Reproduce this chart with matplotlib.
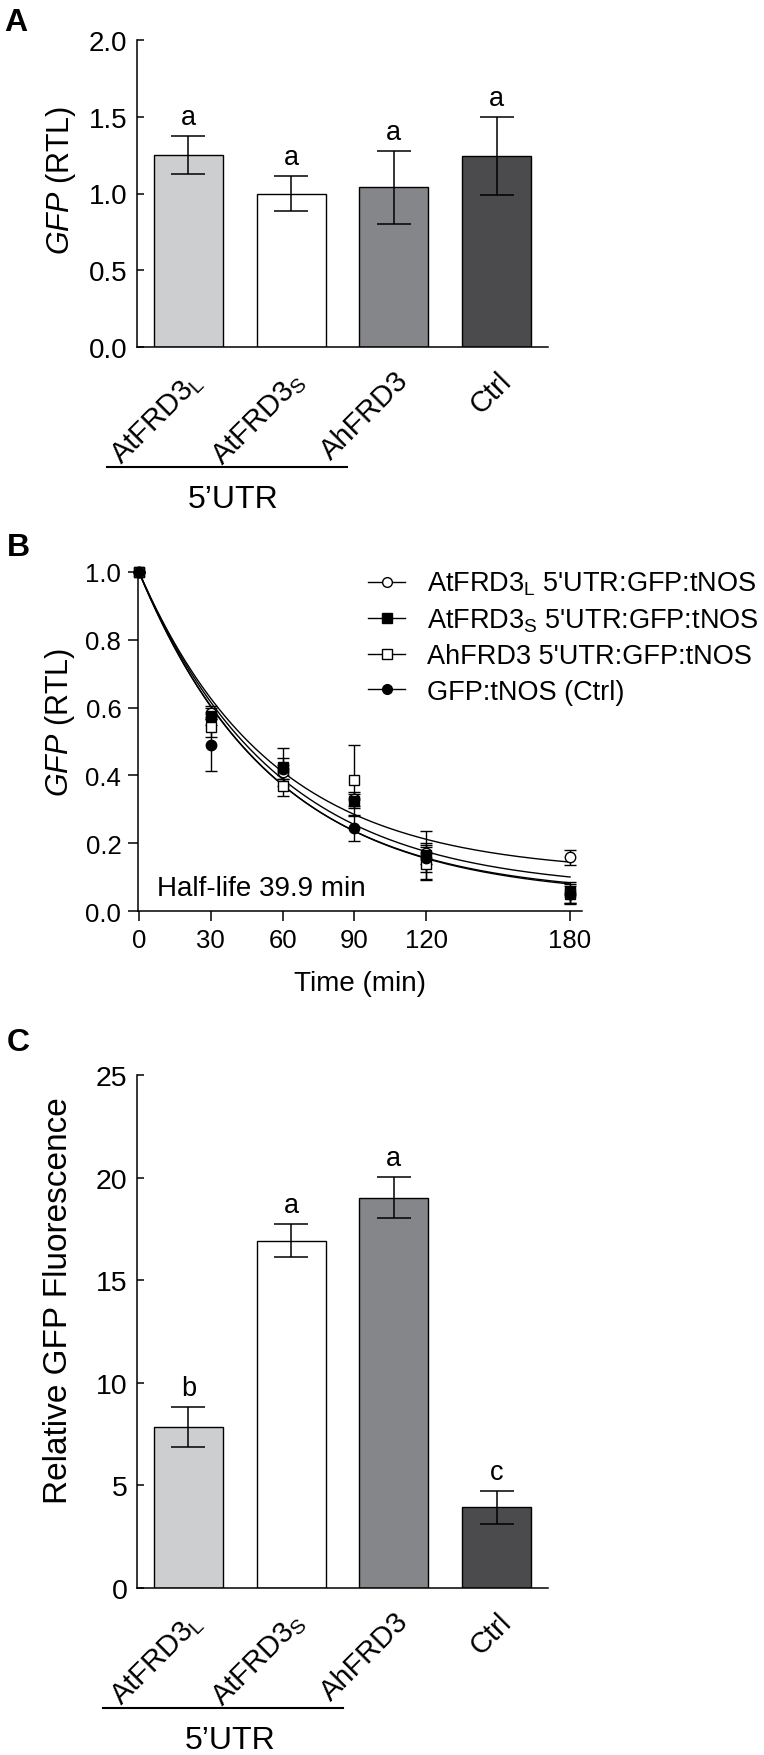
import numpy as np
import matplotlib
matplotlib.use('Agg')
import matplotlib.pyplot as plt
from matplotlib.lines import Line2D

plt.rcParams['font.family'] = 'Liberation Sans'
plt.rcParams['mathtext.fontset'] = 'custom'
plt.rcParams['mathtext.rm'] = 'Liberation Sans'
plt.rcParams['mathtext.it'] = 'Liberation Sans:italic'
plt.rcParams['mathtext.bf'] = 'Liberation Sans:bold'

W, H = 764, 1756

# --- panel A: GFP transcript level ---
bar_labels = ['AtFRD3$_\\mathregular{L}$', 'AtFRD3$_\\mathregular{S}$', 'AhFRD3', 'Ctrl']
bar_colors = ['#cdced0', '#ffffff', '#85868a', '#4b4b4d']
rtl_mean = [1.25, 1.0, 1.04, 1.245]
rtl_err = [0.125, 0.112, 0.236, 0.255]
rtl_letters = ['a', 'a', 'a', 'a']

# --- panel B: decay time course ---
time_min = [0, 30, 60, 90, 120, 180]
decay_names = ['AtFRD3$_\\mathregular{L}$ 5\'UTR:GFP:tNOS',
               'AtFRD3$_\\mathregular{S}$ 5\'UTR:GFP:tNOS',
               'AhFRD3 5\'UTR:GFP:tNOS',
               'GFP:tNOS (Ctrl)']
decay_markers = ['o', 's', 's', 'o']
decay_face = ['white', 'black', 'white', 'black']
at_l = [1.0, 0.585, 0.41, 0.33, 0.17, 0.158]
at_l_err = [0, 0.02, 0.02, 0.02, 0.03, 0.023]
at_s = [1.0, 0.575, 0.425, 0.325, 0.165, 0.055]
at_s_err = [0, 0.025, 0.055, 0.02, 0.07, 0.03]
ah = [1.0, 0.543, 0.37, 0.385, 0.14, 0.05]
ah_err = [0, 0.03, 0.03, 0.105, 0.05, 0.03]
ctrl = [1.0, 0.49, 0.42, 0.245, 0.155, 0.05]
ctrl_err = [0, 0.077, 0.03, 0.038, 0.04, 0.025]
# one-phase decay fits (plateau, rate per min)
fit_plateau = [0.11, 0.04, 0.06, 0.045]
fit_k = [0.0181, 0.0177, 0.0175, 0.0179]

# --- panel C: fluorescence ---
fluo_mean = [7.85, 16.93, 19.02, 3.93]
fluo_err = [0.97, 0.82, 0.99, 0.81]
fluo_letters = ['b', 'a', 'a', 'c']


def px_axes(fig, left, top, right, bottom):
    return fig.add_axes([left / W, 1 - bottom / H, (right - left) / W, (bottom - top) / H])


def bar_panel(ax, means, errs, letters, ylim, yticks, fmt, tick_size):
    x = np.arange(len(means))
    ax.bar(x, means, width=0.67, color=bar_colors, edgecolor='black', linewidth=1.0, zorder=2)
    ax.errorbar(x, means, yerr=errs, fmt='none', ecolor='black', elinewidth=1.1,
                capsize=12.2, capthick=1.1, zorder=3)
    for xi, m, e, l in zip(x, means, errs, letters):
        ax.annotate(l, (xi, m + e), xytext=(0, 12), textcoords='offset pixels',
                    ha='center', va='baseline', fontsize=19.5)
    ax.set_xlim(-0.5, 3.5)
    ax.set_ylim(*ylim)
    ax.set_yticks(yticks)
    ax.set_yticklabels([fmt.format(v) for v in yticks])
    ax.tick_params(axis='y', direction='in', length=5, width=1.1, labelsize=tick_size, pad=7)
    ax.set_xticks([])
    for s in ['top', 'right']:
        ax.spines[s].set_visible(False)
    for s in ['left', 'bottom']:
        ax.spines[s].set_linewidth(1.1)
    for xi, lab in enumerate(bar_labels):
        ax.annotate(lab, (xi, 0), xycoords=('data', 'axes fraction'), xytext=(10, -29),
                    textcoords='offset pixels', rotation=45, ha='right', va='center',
                    rotation_mode='anchor', fontsize=21)


fig = plt.figure(figsize=(W / 100, H / 100), dpi=100)

# panel A
ax_a = px_axes(fig, 137, 41, 548, 348)
bar_panel(ax_a, rtl_mean, rtl_err, rtl_letters, (0, 2.0), [0, 0.5, 1.0, 1.5, 2.0], '{:.1f}', 20)
ax_a.set_ylabel('$\\mathit{GFP}$ (RTL)', fontsize=22)
ax_a.yaxis.set_label_coords(-0.1435, 0.547)
fig.add_artist(Line2D([107 / W, 347 / W], [1 - 468 / H] * 2, color='black', lw=1.5))
fig.text(233 / W, 1 - 500 / H, '5\u2019UTR', ha='center', va='center', fontsize=23)
fig.text(4 / W, 1 - 23 / H, 'A', ha='left', va='center', fontsize=23, fontweight='bold')

# panel B
ax_b = px_axes(fig, 138, 573, 582, 912)
series = [(at_l, at_l_err), (at_s, at_s_err), (ah, ah_err), (ctrl, ctrl_err)]
t_fit = np.linspace(0, 180, 300)
for p, k in zip(fit_plateau, fit_k):
    ax_b.plot(t_fit, (1 - p) * np.exp(-k * t_fit) + p, color='black', lw=1.0, zorder=2)
handles = []
for (vals, errs), m, fc, name in zip(series, decay_markers, decay_face, decay_names):
    ax_b.errorbar(time_min, vals, yerr=errs, fmt=m, mfc=fc, mec='black', ms=7.5, mew=1.0,
                  ecolor='black', elinewidth=1.0, capsize=4.3, capthick=1.0, zorder=3,
                  clip_on=False)
    handles.append(Line2D([], [], color='black', lw=1.0, marker=m, mfc=fc, mec='black',
                          ms=7, mew=1.0))
ax_b.set_xlim(-0.4, 185)
ax_b.set_ylim(0, 1.0)
ax_b.set_xticks(time_min)
ax_b.set_yticks([0, 0.2, 0.4, 0.6, 0.8, 1.0])
ax_b.set_yticklabels(['{:.1f}'.format(v) for v in [0, 0.2, 0.4, 0.6, 0.8, 1.0]])
ax_b.tick_params(direction='out', length=7, width=1.1, labelsize=18.5, pad=5)
for s in ['top', 'right']:
    ax_b.spines[s].set_visible(False)
for s in ['left', 'bottom']:
    ax_b.spines[s].set_linewidth(1.1)
ax_b.set_ylabel('$\\mathit{GFP}$ (RTL)', fontsize=22)
ax_b.yaxis.set_label_coords(-0.1385, 0.56)
ax_b.set_xlabel('Time (min)', fontsize=20)
ax_b.xaxis.set_label_coords(0.5, -0.174)
ax_b.legend(handles, decay_names, loc='upper left', bbox_to_anchor=(368 / W, 1 - 571 / H),
            bbox_transform=fig.transFigure, frameon=False, fontsize=19.5, handlelength=1.37,
            handletextpad=0.8, labelspacing=0.34, borderpad=0, borderaxespad=0)
fig.text(157 / W, 1 - 896 / H, 'Half-life 39.9 min', ha='left', va='baseline', fontsize=20)
fig.text(7 / W, 1 - 548 / H, 'B', ha='left', va='center', fontsize=23, fontweight='bold')

# panel C
ax_c = px_axes(fig, 137, 1076, 548, 1589)
bar_panel(ax_c, fluo_mean, fluo_err, fluo_letters, (0, 25), [0, 5, 10, 15, 20, 25], '{:d}', 20.5)
ax_c.set_ylabel('Relative GFP Fluorescence', fontsize=24)
ax_c.yaxis.set_label_coords(-0.153, 0.563)
fig.add_artist(Line2D([103 / W, 343 / W], [1 - 1709 / H] * 2, color='black', lw=1.5))
fig.text(230 / W, 1 - 1741 / H, '5\u2019UTR', ha='center', va='center', fontsize=23)
fig.text(7 / W, 1 - 1043 / H, 'C', ha='left', va='center', fontsize=23, fontweight='bold')

fig.savefig('out.png', dpi=100)
